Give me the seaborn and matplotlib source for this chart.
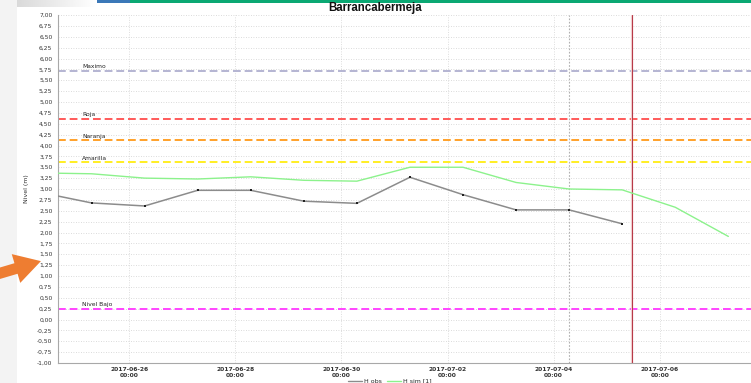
import numpy as np
import pandas as pd
import matplotlib
matplotlib.use("Agg")
import matplotlib.pyplot as plt
import matplotlib.dates as mdates
import matplotlib.transforms as mtransforms
from matplotlib.ticker import FuncFormatter, MultipleLocator, FixedLocator
from matplotlib.patches import Rectangle, FancyArrow
from matplotlib.lines import Line2D
import seaborn as sns

# ---- data -------------------------------------------------------------
station = "Barrancabermeja"

obs_times = ["2017-06-24 07:00", "2017-06-25 07:00", "2017-06-26 07:00",
             "2017-06-27 07:00", "2017-06-28 07:00", "2017-06-29 07:00",
             "2017-06-30 07:00", "2017-07-01 07:00", "2017-07-02 07:00",
             "2017-07-03 07:00", "2017-07-04 07:00", "2017-07-05 07:00"]
obs_levels = [2.93, 2.68, 2.61, 2.97, 2.97, 2.72, 2.67, 3.27, 2.87, 2.52, 2.52, 2.20]

sim_times = ["2017-06-24 07:00", "2017-06-25 07:00", "2017-06-26 07:00",
             "2017-06-27 07:00", "2017-06-28 07:00", "2017-06-29 07:00",
             "2017-06-30 07:00", "2017-07-01 07:00", "2017-07-02 07:00",
             "2017-07-03 07:00", "2017-07-04 07:00", "2017-07-05 07:00",
             "2017-07-06 07:00", "2017-07-07 07:00"]
sim_levels = [3.37, 3.35, 3.25, 3.23, 3.28, 3.20, 3.18, 3.50, 3.50, 3.15,
              3.00, 2.98, 2.58, 1.91]

series_names = ["H obs", "H sim [1]"]

alert_names = ["Maximo", "Roja", "Naranja", "Amarilla", "Nivel Bajo"]
alert_levels = [5.72, 4.61, 4.12, 3.61, 0.25]

tick_dates = ["2017-06-26", "2017-06-28", "2017-06-30",
              "2017-07-02", "2017-07-04", "2017-07-06"]
x_range = ["2017-06-24 15:50", "2017-07-07 17:15"]
y_range = [-1.0, 7.0]

forecast_time = "2017-07-05 11:20"
last_run_time = "2017-07-04 07:00"

# ---- styles -----------------------------------------------------------
alert_colors = ["#b4b4d2", "#ff5a5a", "#ffa12a", "#ffee22", "#ff44ff"]
obs_color = "#8c8c8c"
sim_color = "#8cf28c"

obs = pd.DataFrame({"time": pd.to_datetime(obs_times), "level": obs_levels})
sim = pd.DataFrame({"time": pd.to_datetime(sim_times), "level": sim_levels})

sns.set_style("white")
plt.rcParams["font.family"] = ["DejaVu Sans"]

W, H = 751, 383
fig = plt.figure(figsize=(W / 100, H / 100), dpi=100)

# background decoration layer in pixel coordinates
bg = fig.add_axes([0, 0, 1, 1], zorder=0)
bg.set_xlim(0, W)
bg.set_ylim(H, 0)
bg.axis("off")
bg.add_patch(Rectangle((0, 0), 17, H, color="#f3f3f3", lw=0))
grad = np.linspace(0.82, 1.0, 200)[None, :]
bg.imshow(np.repeat(grad, 2, axis=0), cmap="gray", vmin=0, vmax=1,
          extent=(0, 97, 7, 0), aspect="auto")
bg.add_patch(Rectangle((97, 0), 33, 2.5, color="#3b78b8", lw=0))
bg.add_patch(Rectangle((130, 0), W - 130, 2.5, color="#0aa873", lw=0))

ax = fig.add_axes([58 / W, 20 / H, (W - 58) / W, 348 / H], zorder=1)
ax.set_facecolor("white")

# alert thresholds
label_tf = mtransforms.blended_transform_factory(ax.transAxes, ax.transData)
for name, lvl, col in zip(alert_names, alert_levels, alert_colors):
    ax.axhline(lvl, color=col, lw=1.4, ls=(0, (4, 2)), zorder=2)
    ax.annotate(name, xy=(0.035, lvl), xycoords=label_tf,
                xytext=(0, 1.2), textcoords="offset points",
                fontsize=4.3, color="#222222", va="bottom", ha="left")

# series
sns.lineplot(data=sim, x="time", y="level", ax=ax, color=sim_color,
             lw=1.0, zorder=3)
sns.lineplot(data=obs, x="time", y="level", ax=ax, color=obs_color,
             lw=1.1, marker="s", markersize=1.5, markerfacecolor="#222222",
             markeredgewidth=0, zorder=4)

# vertical markers
ax.axvline(pd.Timestamp(last_run_time), color="#b0b0b0", lw=0.8,
           ls=(0, (1.5, 1.5)), zorder=1)
ax.axvline(pd.Timestamp(forecast_time), color="#f4d6d6", lw=1.6, zorder=2)
ax.axvline(pd.Timestamp(forecast_time), color="#b83a48", lw=0.8, zorder=2)

# axes
ax.set_xlim(pd.Timestamp(x_range[0]), pd.Timestamp(x_range[1]))
ax.set_ylim(*y_range)
ax.yaxis.set_major_locator(MultipleLocator(0.25))
ax.yaxis.set_major_formatter(FuncFormatter(lambda v, p: f"{v:.2f}".replace(".", ",")))
ax.xaxis.set_major_locator(FixedLocator(mdates.date2num(pd.to_datetime(tick_dates))))
ax.xaxis.set_major_formatter(mdates.DateFormatter("%Y-%m-%d\n%H:%M"))

ax.grid(True, axis="y", color="#cfcfcf", lw=0.6, ls=(0, (1, 2)))
ax.grid(True, axis="x", color="#dddddd", lw=0.7, ls=(0, (1, 1.5)))
ax.set_axisbelow(True)

for s in ["top", "right"]:
    ax.spines[s].set_visible(False)
for s in ["left", "bottom"]:
    ax.spines[s].set_color("#a8a8a8")
    ax.spines[s].set_linewidth(0.8)

ax.tick_params(axis="y", labelsize=4.3, length=2, pad=2, width=0.6,
               color="#999999", labelcolor="#333333")
ax.tick_params(axis="x", labelsize=4.3, length=2, pad=1, width=0.6,
               color="#999999", labelcolor="#333333")
for lab in ax.get_xticklabels():
    lab.set_fontweight("bold")
ax.set_xlabel("")
ax.set_ylabel("Nivel (m)", fontsize=4.5, color="#333333", labelpad=6)

fig.text(0.5, 1 - 8 / H, station, ha="center", va="center",
         fontsize=8.3, fontweight="bold", family="Liberation Sans", color="#111111")

handles = [Line2D([], [], color=obs_color, lw=1.0),
           Line2D([], [], color=sim_color, lw=1.0)]
fig.legend(handles, series_names, loc="center", bbox_to_anchor=(390 / W, 1 - 381 / H),
           ncol=2, frameon=False, fontsize=4.5, handlelength=2.2,
           handletextpad=0.4, columnspacing=0.8, borderpad=0)

# pointer arrow on the left margin
ov = fig.add_axes([0, 0, 1, 1], zorder=5)
ov.set_xlim(0, W)
ov.set_ylim(H, 0)
ov.axis("off")
ov.add_patch(FancyArrow(-6, 275, 22, -6.5, width=11, head_width=30,
                        head_length=26, length_includes_head=False,
                        color="#ee7d31", lw=0))

fig.savefig("out.png", dpi=100)
